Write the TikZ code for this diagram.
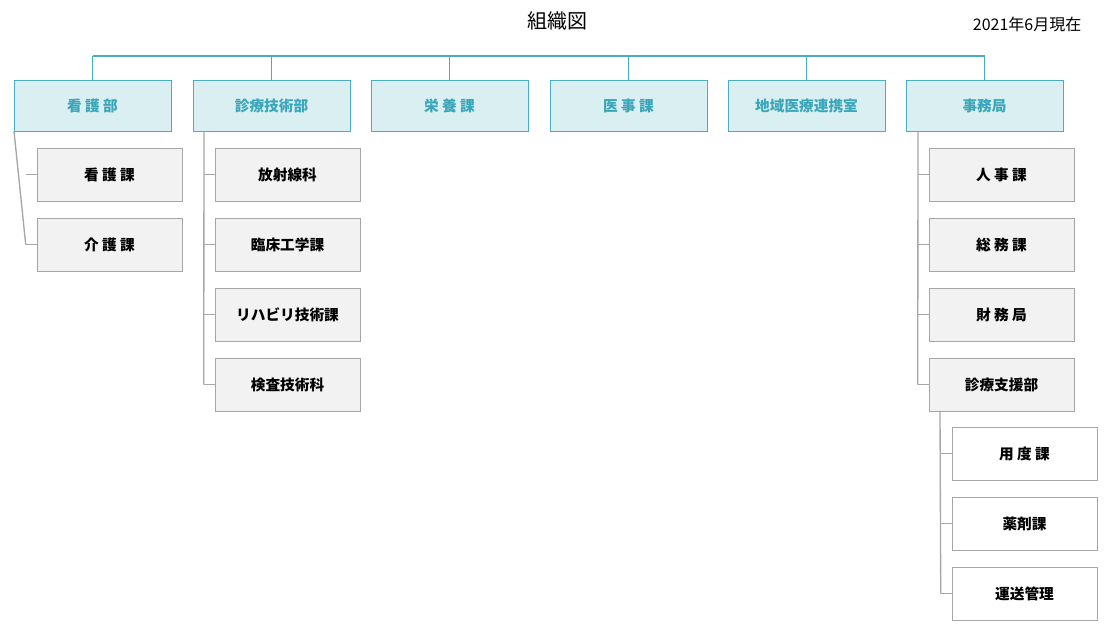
\documentclass[tikz,border=0pt]{standalone}
\usepackage{fontspec}
\setmainfont{Noto Sans CJK JP}
\definecolor{teal1}{HTML}{4BACC6}
\definecolor{tealfill}{HTML}{D9EFF2}
\definecolor{tealtext}{HTML}{3AA6B9}
\definecolor{subfill}{HTML}{F2F2F2}
\definecolor{subline}{HTML}{A6A6A6}
\tikzset{
  dept/.style={draw=teal1, fill=tealfill, minimum width=157*0.75pt, minimum height=51*0.75pt,
    inner sep=0pt, font=\bfseries\fontsize{11}{13}\selectfont, text=tealtext},
  sect/.style={draw=subline, fill=subfill, minimum width=145*0.75pt, minimum height=53*0.75pt,
    inner sep=0pt, font=\bfseries\fontsize{11}{13}\selectfont, text=black},
  subsect/.style={sect, fill=white},
  branch/.style={draw=subline, line width=1pt},
}
\begin{document}
\begin{tikzpicture}[x=0.75pt,y=-0.75pt]
  \useasboundingbox (0,0) rectangle (1114,636);

  \node (title) at (557,21) {\fontsize{15}{18}\selectfont 組織図};
  \node[anchor=east] (date) at (1086,24) {\fontsize{12}{14}\selectfont 2021年6月現在};

  % top level
  \foreach \name/\x/\txt in {kango/92.5/看 護 部, shinryo/271.5/診療技術部, eiyo/449.5/栄 養 課,
      iji/628.5/医 事 課, chiiki/806.5/地域医療連携室, jimu/984.5/事務局} {
    \node[dept] (\name) at (\x,105.5) {\txt};
    \coordinate (\name-t) at (\x,56);
    \draw[teal1, line width=1.2pt] (\name-t) -- (\name.north);
  }
  \draw[teal1, line width=1.2pt] (kango-t) -- (jimu-t);

  % sections
  \foreach \name/\y/\txt in {kg1/174.5/看 護 課, kg2/244.5/介 護 課} {
    \node[sect] (\name) at (109.5,\y) {\txt};
    \draw[branch] (\name.west) -- ++(-11,0);
  }
  \draw[branch] ([xshift=-78.5*0.75pt]kango.south) -- ([xshift=-11*0.75pt]kg2.west);

  \foreach \name/\y/\txt in {sg1/174.5/放射線科, sg2/244.5/臨床工学課, sg3/314.5/リハビリ技術課, sg4/384.5/検査技術科} {
    \node[sect] (\name) at (287.5,\y) {\txt};
    \draw[branch] (\name.west) -- ++(-11,0);
  }
  \draw[branch] ([xshift=-67.5*0.75pt]shinryo.south) -- ([xshift=-11*0.75pt]sg4.west);

  \foreach \name/\y/\txt in {jm1/174.5/人 事 課, jm2/244.5/総 務 課, jm3/314.5/財 務 局, jm4/384.5/診療支援部} {
    \node[sect] (\name) at (1001.5,\y) {\txt};
    \draw[branch] (\name.west) -- ++(-11,0);
  }
  \draw[branch] ([xshift=-66.5*0.75pt]jimu.south) -- ([xshift=-11*0.75pt]jm4.west);

  \foreach \name/\y/\txt in {sh1/453.5/用 度 課, sh2/523.5/薬剤課, sh3/593.5/運送管理} {
    \node[subsect] (\name) at (1024.5,\y) {\txt};
    \draw[branch] (\name.west) -- ++(-11,0);
  }
  \draw[branch] ([xshift=-61.5*0.75pt]jm4.south) -- ([xshift=-11*0.75pt]sh3.west);
\end{tikzpicture}
\end{document}
